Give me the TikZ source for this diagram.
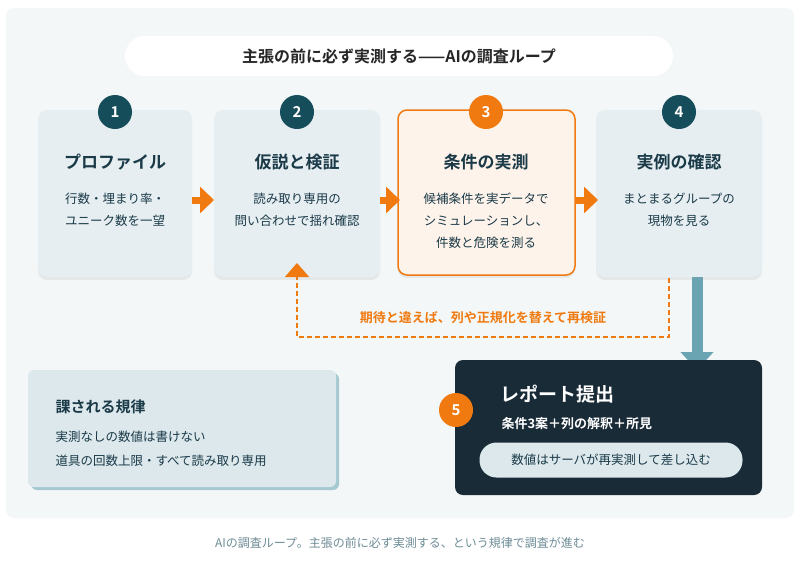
\documentclass[tikz,border=0pt]{standalone}
\usepackage{fontspec}
\setmainfont{Noto Sans CJK JP}
\newfontfamily\jpb{Noto Sans CJK JP Bold}
\usetikzlibrary{arrows.meta,shadows}
\definecolor{bgp}{HTML}{F3F7F8}
\definecolor{card}{HTML}{E6EEF1}
\definecolor{dk}{HTML}{154D5A}
\definecolor{txt}{HTML}{1A3A48}
\definecolor{org}{HTML}{F07A10}
\definecolor{orgbg}{HTML}{FEF3EA}
\definecolor{navy}{HTML}{1A2B38}
\definecolor{pale}{HTML}{DCE8EC}
\definecolor{teal}{HTML}{6AA3B2}
\definecolor{cap}{HTML}{6E8C96}
\begin{document}
\begin{tikzpicture}[x=1pt,y=-1pt,
 card/.style={fill=card,rounded corners=9pt,drop shadow={shadow xshift=0pt,shadow yshift=-3pt,fill=black!40,opacity=0.15}},
 badge/.style={circle,fill=dk,minimum size=34pt,inner sep=0pt,text=white,font=\jpb\fontsize{15}{15}\selectfont},
 ttl/.style={text=txt,font=\jpb\fontsize{17}{17}\selectfont},
 body/.style={text=txt,font=\fontsize{12.5}{22}\selectfont,align=center},
 flow/.style={org,line width=7pt,-{Triangle[length=14pt,width=26pt]}}]
\useasboundingbox (0,0) rectangle (800,566);
\fill[white] (0,0) rectangle (800,566);
\fill[bgp,rounded corners=8pt] (6,8) rectangle (794,518);
\node[fill=white,rounded corners=20pt,minimum width=548pt,minimum height=40pt,text=black!85,font=\jpb\fontsize{16}{16}\selectfont] (title) at (399,56) {主張の前に必ず実測する——AIの調査ループ};
% cards
\path[card] (38,110) rectangle (192,277); \coordinate (c1) at (115,193);
\path[card] (214,110) rectangle (380,277); \coordinate (c2) at (297,193);
\path[fill=orgbg,draw=org,line width=1.5pt,rounded corners=9pt,drop shadow={shadow xshift=0pt,shadow yshift=-3pt,fill=black!40,opacity=0.15}] (398,110) rectangle (575,275);
\path[card] (596,110) rectangle (762,277);
\node[badge] (b1) at (115,112) {1};
\node[badge] (b2) at (297,112) {2};
\node[badge,fill=org] (b3) at (486,112) {3};
\node[badge] (b4) at (679,112) {4};
\node[ttl] (t1) at (115,162) {プロファイル};
\node[ttl] (t2) at (297,162) {仮説と検証};
\node[ttl] (t3) at (486,162) {条件の実測};
\node[ttl] (t4) at (679,162) {実例の確認};
\node[body,anchor=north] (d1) at (115,189) {行数・埋まり率・\\ユニーク数を一望};
\node[body,anchor=north] (d2) at (297,189) {読み取り専用の\\問い合わせで揺れ確認};
\node[body,anchor=north] (d3) at (486,189) {候補条件を実データで\\シミュレーションし、\\件数と危険を測る};
\node[body,anchor=north] (d4) at (679,189) {まとまるグループの\\現物を見る};
\coordinate (a1s) at (192,200); \coordinate (a1e) at (214,200);
\coordinate (a2s) at (380,200); \coordinate (a2e) at (400,200);
\coordinate (a3s) at (575,200); \coordinate (a3e) at (598,200);
\draw[flow] (a1s) -- (a1e);
\draw[flow] (a2s) -- (a2e);
\draw[flow] (a3s) -- (a3e);
% dashed loop
\coordinate (l1) at (669,278); \coordinate (l2) at (297,263);
\draw[org,line width=2pt,dash pattern=on 5pt off 3pt,-{Triangle[length=14pt,width=24pt]}] (l1) -- (669,337) -- (297,337) -- (l2);
\node[text=org,font=\jpb\fontsize{13}{13}\selectfont] (loop) at (483,318) {期待と違えば、列や正規化を替えて再検証};
% teal arrow
\coordinate (ts) at (697,277); \coordinate (te) at (697,370);
\draw[teal,line width=11pt,-{Triangle[length=18pt,width=32pt]}] (ts) -- (te);
% box5
\fill[navy,rounded corners=8pt] (455,360) rectangle (762,495);
\node[badge,fill=org] (b5) at (456,410) {5};
\node[anchor=west,text=white,font=\jpb\fontsize{19}{19}\selectfont] (t5) at (497,394) {レポート提出};
\node[anchor=west,text=white,font=\jpb\fontsize{13}{13}\selectfont] (s5) at (498,424) {条件3案＋列の解釈＋所見};
\node[fill=pale,rounded corners=17pt,minimum width=263pt,minimum height=35pt,text=txt,font=\fontsize{12.5}{12.5}\selectfont] (pill) at (611,460) {数値はサーバが再実測して差し込む};
% rules box
\fill[teal!60,rounded corners=6pt] (31,373) rectangle (339,490);
\fill[pale,rounded corners=6pt] (28,370) rectangle (336,487);
\node[anchor=west,text=txt,font=\jpb\fontsize{15}{15}\selectfont] (rt) at (52,407) {課される規律};
\node[anchor=west,text=txt,font=\fontsize{12.5}{12.5}\selectfont] (r1) at (52,437) {実測なしの数値は書けない};
\node[anchor=west,text=txt,font=\fontsize{12.5}{12.5}\selectfont] (r2) at (52,461) {道具の回数上限・すべて読み取り専用};
\node[text=cap,font=\fontsize{12}{12}\selectfont] (caption) at (400,543) {AIの調査ループ。主張の前に必ず実測する、という規律で調査が進む};
\end{tikzpicture}
\end{document}
